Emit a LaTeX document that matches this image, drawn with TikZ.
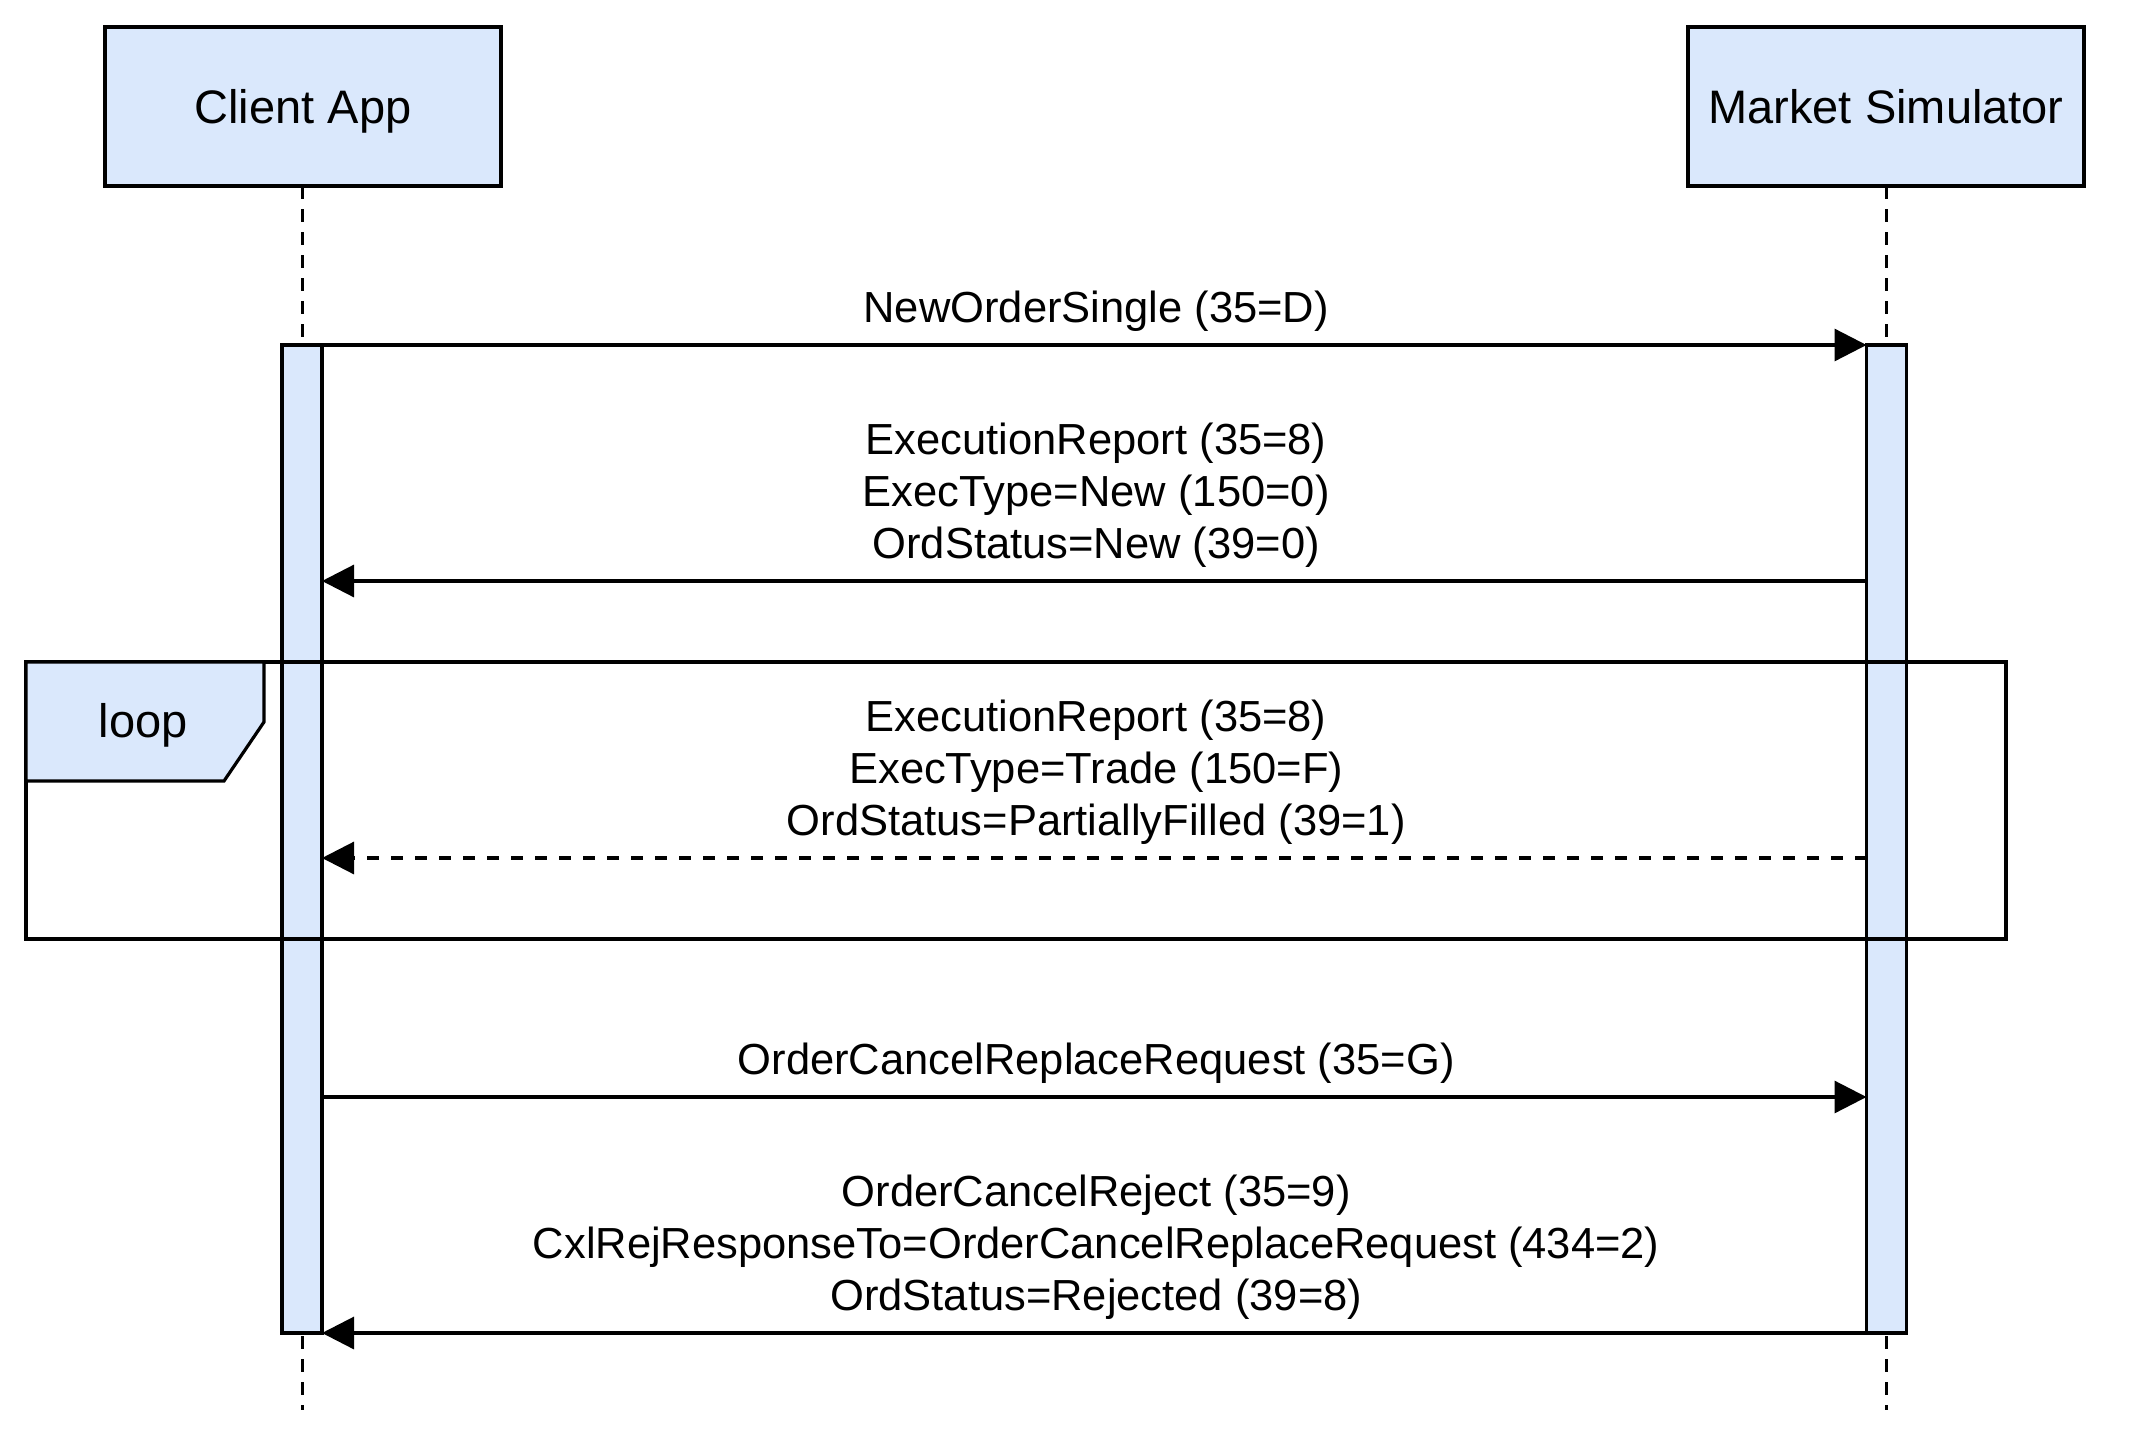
\documentclass[tikz,border=0pt]{standalone}
\usepackage{fontspec}
\setmainfont{Liberation Sans}
\usetikzlibrary{arrows.meta,calc}
\definecolor{boxblue}{HTML}{DAE8FC}
\begin{document}
\begin{tikzpicture}[x=0.5pt,y=-0.5pt,
 every node/.style={font=\fontsize{21.75}{26}\selectfont},
 participant/.style={draw, fill=boxblue, line width=1.6pt, minimum width=198pt, minimum height=79.5pt, inner sep=0pt, outer sep=0pt,
   font=\fontsize{23.5}{28}\selectfont, text height=17pt, text depth=0pt},
 activation/.style={draw, fill=boxblue, line width=1.6pt, minimum width=20pt, minimum height=494pt, inner sep=0pt, outer sep=0pt},
 lifeline/.style={line width=1.5pt, dash pattern=on 6.5pt off 5pt},
 msg/.style={line width=1.6pt, -{Triangle[length=16pt,width=16pt]}},
 reply/.style={msg, dash pattern=on 6pt off 6pt},
 lbl/.style={align=center, above=6pt, inner sep=0pt, midway, xshift=1pt},
 frame/.style={draw, line width=1.6pt},
 framelabel/.style={font=\fontsize{23.5}{28}\selectfont, inner sep=0pt, text height=17pt, text depth=0pt}]
\useasboundingbox (0,0) rectangle (2129,1429);

% participants
\node[participant] (client) at (303,106.5) {Client App};
\node[participant] (market) at (1886,106.5) {Market Simulator};

\coordinate (cend) at (302,1410);
\coordinate (mend) at (1886.5,1410);

% lifelines
\draw[lifeline] (client.south -| cend) -- (cend);
\draw[lifeline] (market.south -| mend) -- (mend);

% activation bars
\node[activation] (cbar) at (302,839) {};
\node[activation] (mbar) at (1886.5,839) {};

% message end points
\coordinate (m2s) at (mbar.west |- 0,581);
\coordinate (m2e) at (cbar.east |- 0,581);
\coordinate (m3s) at (mbar.west |- 0,858);
\coordinate (m3e) at (cbar.east |- 0,858);
\coordinate (m4s) at (cbar.east |- 0,1097);
\coordinate (m4e) at (mbar.west |- 0,1097);

% messages
\draw[msg] (cbar.north east) -- node[lbl] {NewOrderSingle (35=D)} (mbar.north west);
\draw[msg] (m2s) -- node[lbl] {ExecutionReport (35=8)\\ExecType=New (150=0)\\OrdStatus=New (39=0)} (m2e);
\draw[reply] (m3s) -- node[lbl] {ExecutionReport (35=8)\\ExecType=Trade (150=F)\\OrdStatus=PartiallyFilled (39=1)} (m3e);
\draw[msg] (m4s) -- node[lbl] {OrderCancelReplaceRequest (35=G)} (m4e);
\draw[msg] (mbar.south west) -- node[lbl] {OrderCancelReject (35=9)\\CxlRejResponseTo=OrderCancelReplaceRequest (434=2)\\OrdStatus=Rejected (39=8)} (cbar.south east);

% loop frame
\draw[frame] (26,662) rectangle (2006,939);
\draw[frame, fill=boxblue] (26,662) -- (264,662) -- (264,722) -- (224,781) -- (26,781) -- cycle;
\node[framelabel] (looplbl) at (143,720) {loop};
\end{tikzpicture}
\end{document}
